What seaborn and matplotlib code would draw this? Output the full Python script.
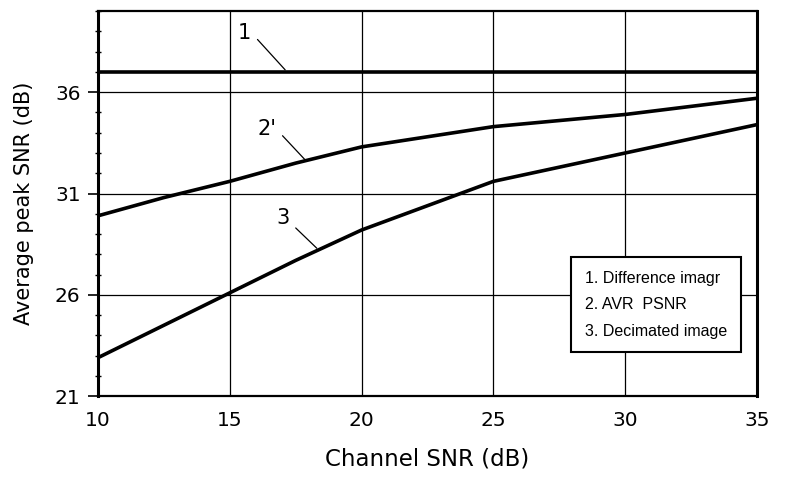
import matplotlib
matplotlib.use("Agg")
import matplotlib.pyplot as plt
from matplotlib.lines import Line2D
from matplotlib.ticker import MultipleLocator
import pandas as pd
import seaborn as sns

# values
channel_snr = [10, 12.5, 15, 17.5, 20, 22.5, 25, 27.5, 30, 32.5, 35]
diff_image = [37.0, 37.0, 37.0, 37.0, 37.0, 37.0, 37.0, 37.0, 37.0, 37.0, 37.0]
avr_psnr = [29.9, 30.8, 31.6, 32.5, 33.3, 33.8, 34.3, 34.6, 34.9, 35.3, 35.7]
decimated = [22.9, 24.5, 26.1, 27.7, 29.2, 30.4, 31.6, 32.3, 33.0, 33.7, 34.4]
legend_labels = ["1. Difference imagr", "2. AVR  PSNR", "3. Decimated image"]
curve_tags = ["1", "2'", "3"]

df = pd.DataFrame({
    "snr": channel_snr * 3,
    "psnr": diff_image + avr_psnr + decimated,
    "curve": ["1"] * 11 + ["2"] * 11 + ["3"] * 11,
})

sns.set_style("white")
plt.rcParams["font.family"] = ["DejaVu Sans"]
plt.rcParams.update({"text.color": "black", "axes.labelcolor": "black",
                     "xtick.color": "black", "ytick.color": "black"})

fig, ax = plt.subplots(figsize=(7.87, 4.82), dpi=100)
fig.subplots_adjust(left=0.1245, right=0.962, top=0.977, bottom=0.178)

sns.lineplot(data=df, x="snr", y="psnr", hue="curve",
             palette=["black", "black", "black"], linewidth=2.6,
             legend=False, ax=ax, zorder=3)

ax.set_xlim(10, 35)
ax.set_ylim(21, 40)
ax.set_xticks([10, 15, 20, 25, 30, 35])
ax.set_yticks([21, 26, 31, 36])
ax.yaxis.set_minor_locator(MultipleLocator(1))
ax.grid(True, which="major", color="black", linewidth=0.9)
ax.tick_params(axis="x", length=0, pad=11, labelsize=14.5)
ax.tick_params(axis="y", which="major", length=7.5, width=1.2, direction="out",
               left=True, pad=5, labelsize=14.5)
ax.tick_params(axis="y", which="minor", length=4, width=1, direction="inout",
               left=True)

for side, lw in [("left", 2.2), ("right", 2.2), ("top", 1.6), ("bottom", 1.6)]:
    ax.spines[side].set_visible(True)
    ax.spines[side].set_color("black")
    ax.spines[side].set_linewidth(lw)

ax.set_xlabel("Channel SNR (dB)", fontsize=16.5, labelpad=12)
ax.set_ylabel("Average peak SNR (dB)", fontsize=15, labelpad=15)

# curve number tags with leader lines
tag_pos = [(15.55, 38.9), (16.4, 34.2), (17.0, 29.8)]
leader_start = [(16.05, 38.6), (17.0, 33.85), (17.5, 29.3)]
leader_end = [(17.1, 37.1), (17.9, 32.6), (18.3, 28.3)]
for tag, (tx, ty), (sx, sy), (ex, ey) in zip(curve_tags, tag_pos, leader_start, leader_end):
    ax.text(tx, ty, tag, fontsize=15, ha="center", va="center")
    ax.plot([sx, ex], [sy, ey], color="black", linewidth=0.9)

handles = [Line2D([], [], linestyle="none") for _ in legend_labels]
leg = ax.legend(handles, legend_labels, loc="upper left",
                bbox_to_anchor=(0.718, 0.361), borderaxespad=0,
                prop={"family": "Liberation Sans", "size": 11.5},
                handlelength=0, handletextpad=0, borderpad=0.85,
                labelspacing=0.72, fancybox=False, framealpha=1,
                edgecolor="black")
leg.get_frame().set_linewidth(1.5)

plt.savefig("out.png", dpi=100)
